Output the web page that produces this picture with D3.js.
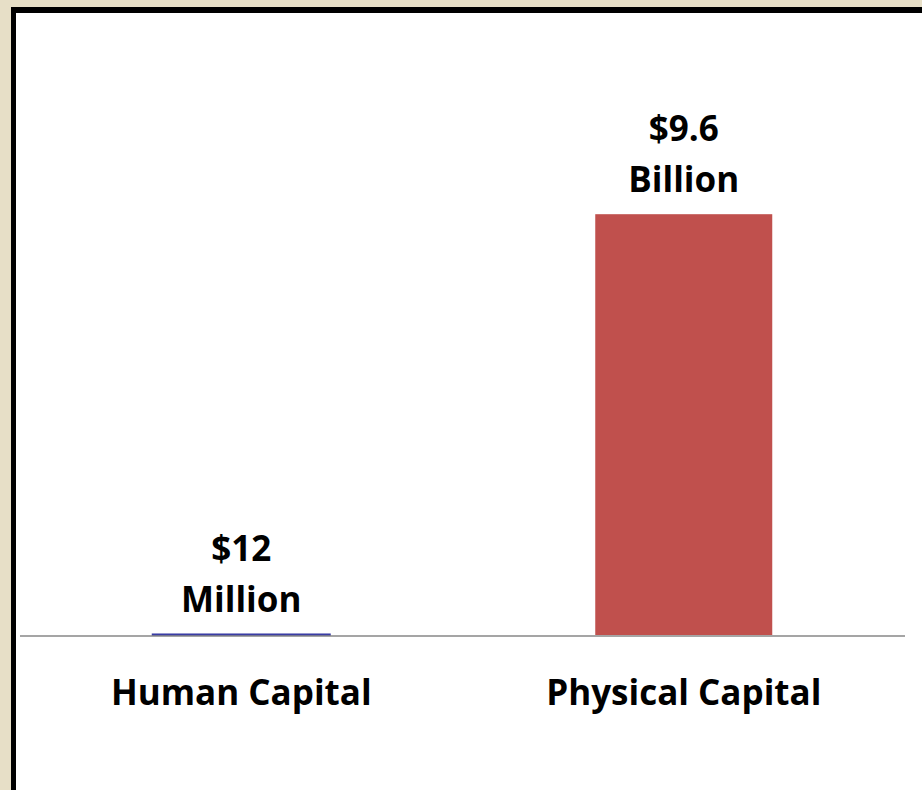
<!DOCTYPE html>
<html>
<head>
<meta charset="utf-8">
<script src="https://cdn.jsdelivr.net/npm/d3@7"></script>
<style>
  html, body { margin: 0; padding: 0; background: #E7DFC7; overflow: hidden; }
  svg { display: block; }
</style>
</head>
<body>
<svg id="chart" width="922" height="790"></svg>
<script>
const categories = ["Human Capital", "Physical Capital"];
const values = [0.012, 9.6];              // billions of dollars
const valueLabels = [["$12", "Million"], ["$9.6", "Billion"]];
const colors = ["#3A3DA5", "#C0504D"];

const W = 922, H = 790;
const svg = d3.select("#chart");

// frame
svg.append("rect").attr("x", 11).attr("y", 7).attr("width", W).attr("height", H).attr("fill", "#000");
svg.append("rect").attr("x", 16).attr("y", 13).attr("width", W).attr("height", H).attr("fill", "#fff");

const x = d3.scaleBand().domain(categories).range([20, 905]).paddingInner(0.6).paddingOuter(0.3);
const y = d3.scaleLinear().domain([0, 12]).range([635, 109]);

const font = "'Open Sans', sans-serif";
const fs = 35;

// bars
svg.selectAll("rect.bar").data(categories).join("rect")
  .attr("class", "bar")
  .attr("x", d => x(d))
  .attr("width", x.bandwidth())
  .attr("y", (d, i) => y(values[i]))
  .attr("height", (d, i) => y(0) - y(values[i]))
  .attr("fill", (d, i) => colors[i])
  .attr("stroke", (d, i) => i === 0 ? colors[i] : "none")
  .attr("stroke-width", 2);

// baseline axis
const xAxis = d3.axisBottom(x).tickSize(0).tickPadding(0);
const gx = svg.append("g").attr("transform", `translate(0,${y(0) + 1})`).call(xAxis);
gx.select(".domain").attr("d", "M20,0H905").attr("stroke", "#878787").attr("stroke-width", 1.5);
gx.selectAll(".tick text")
  .attr("y", 69).attr("dy", null)
  .attr("font-family", font).attr("font-weight", 700).attr("font-size", fs).attr("fill", "#000");

// value labels
const lbl = svg.selectAll("text.val").data(categories).join("text")
  .attr("class", "val")
  .attr("text-anchor", "middle")
  .attr("font-family", font).attr("font-weight", 700).attr("font-size", fs).attr("fill", "#000");
lbl.append("tspan")
  .attr("x", d => x(d) + x.bandwidth() / 2)
  .attr("y", (d, i) => y(values[i]) - 73)
  .text((d, i) => valueLabels[i][0]);
lbl.append("tspan")
  .attr("x", d => x(d) + x.bandwidth() / 2)
  .attr("y", (d, i) => y(values[i]) - 22)
  .text((d, i) => valueLabels[i][1]);
</script>
</body>
</html>
